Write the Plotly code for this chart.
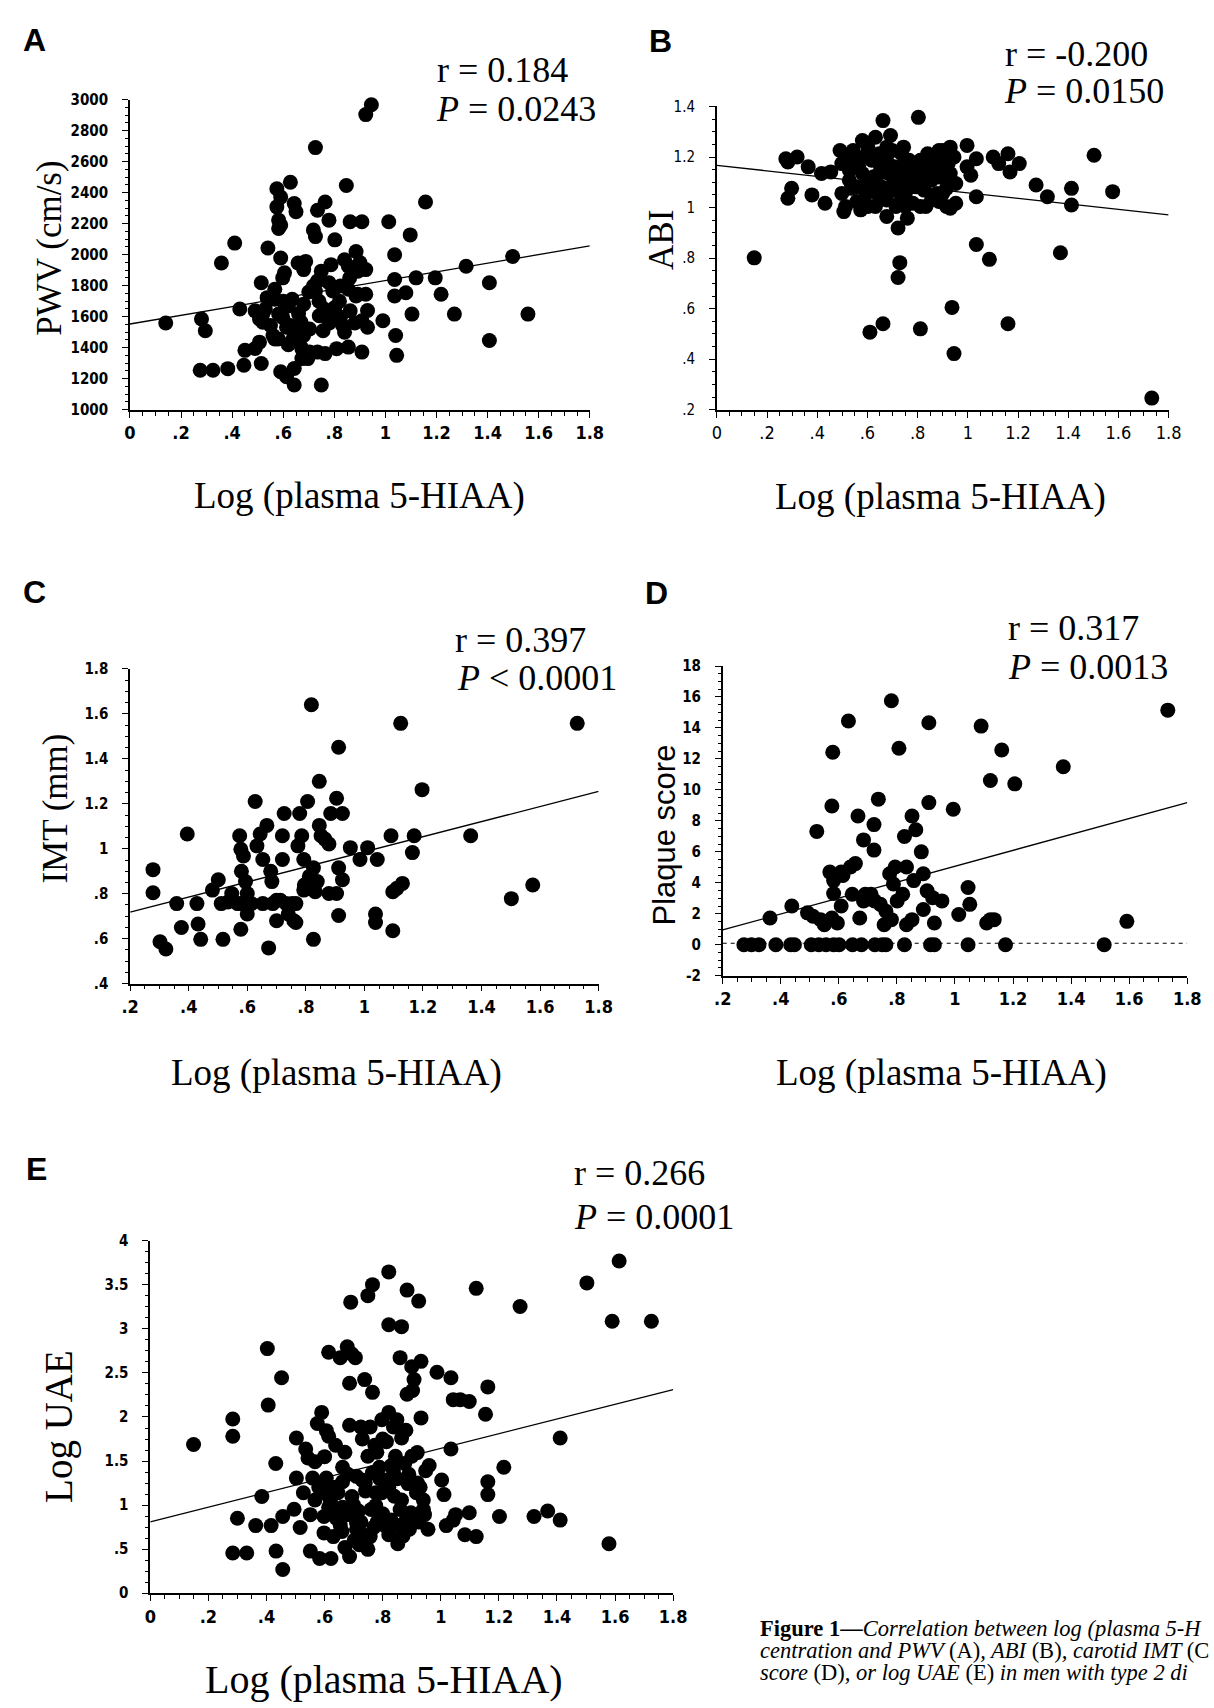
import plotly.graph_objects as go

W, H = 1214, 1708

# ---------------- data ----------------
pwv_pts = [(0.14,1560),(0.28,1585),(0.295,1510),(0.275,1255),(0.325,1255),(0.383,1265),(0.446,1287),(0.358,1947),(0.41,2075),(0.43,1650),(0.45,1383),(0.49,1395),(0.507,1436),(0.514,1298),(0.514,1819),(0.54,2043),(0.537,1723),(0.53,1650),(0.49,1638),(0.507,1585),(0.52,1564),(0.567,1713),(0.55,1543),(0.56,1479),(0.567,1457),(0.575,2426),(0.575,2309),(0.59,2372),(0.582,2223),(0.59,2191),(0.582,2170),(0.59,1979),(0.605,1883),(0.598,1851),(0.582,1617),(0.598,1596),(0.59,1245),(0.613,1213),(0.628,2468),(0.643,2330),(0.65,2277),(0.635,1713),(0.62,1670),(0.628,1543),(0.643,1489),(0.643,1266),(0.643,1160),(0.635,1447),(0.666,1457),(0.673,1394),(0.68,1681),(0.658,1947),(0.688,1957),(0.68,1904),(0.696,1330),(0.703,1372),(0.718,2160),(0.726,2117),(0.726,2691),(0.734,2287),(0.764,2340),(0.726,1766),(0.718,1798),(0.734,1830),(0.749,1894),(0.741,1606),(0.703,1521),(0.756,1510),(0.734,1372),(0.749,1160),(0.764,1362),(0.779,2223),(0.802,2096),(0.787,1936),(0.779,1819),(0.794,1766),(0.779,1628),(0.802,1660),(0.809,1394),(0.824,1596),(0.832,1543),(0.847,2447),(0.84,1968),(0.855,1777),(0.862,1638),(0.855,1404),(0.862,2213),(0.908,2213),(0.885,2021),(0.892,1894),(0.892,1745),(0.923,1904),(0.923,1745),(0.908,1574),(0.93,1532),(0.908,1372),(0.923,2904),(0.945,2968),(0.99,1574),(1.013,2213),(1.036,2000),(1.036,1840),(1.036,1734),(1.04,1479),(1.044,1351),(1.08,1755),(1.097,2128),(1.104,1617),(1.12,1851),(1.157,2340),(1.195,1851),(1.218,1745),(1.27,1617),(1.316,1926),(1.407,1819),(1.407,1447),(1.498,1989),(1.558,1617),(0.58,1457),(0.613,1532),(0.67,1564),(0.855,1926),(0.824,1798),(0.567,1777),(0.673,1330),(0.885,1734),
           (0.52,1620),(0.6,1700),(0.66,1620),(0.7,1760),(0.74,1700),(0.78,1560),(0.82,1700),(0.86,1850),(0.88,1560),(0.93,1640),(0.68,1480),(0.62,1420),(0.76,1650),(0.84,1500),(0.9,1950)]
pwv_fit_x = [0, 1.8]
pwv_fit_y = [1553, 2057]

abi_pts = [(0.149,0.801),(0.275,1.193),(0.283,1.18),(0.32,1.2),(0.283,1.037),(0.298,1.076),(0.364,1.161),(0.379,1.05),(0.417,1.135),(0.431,1.017),(0.454,1.141),(0.491,1.226),(0.498,1.056),(0.506,0.984),(0.521,1.187),(0.528,1.148),(0.536,1.076),(0.558,1.024),(0.573,0.991),(0.58,1.265),(0.588,1.2),(0.595,1.102),(0.595,1.056),(0.602,1.004),(0.632,1.278),(0.647,1.213),(0.647,1.135),(0.655,1.082),(0.662,1.344),(0.67,1.174),(0.677,0.965),(0.677,1.03),(0.692,1.285),(0.699,1.226),(0.707,1.161),(0.714,1.108),(0.714,1.004),(0.722,0.919),(0.729,0.782),(0.722,0.723),(0.744,1.239),(0.751,1.187),(0.751,1.056),(0.759,0.958),(0.766,1.135),(0.781,1.017),(0.789,1.095),(0.803,1.357),(0.811,1.004),(0.796,1.174),(0.818,1.148),(0.826,1.069),(0.84,1.213),(0.855,1.108),(0.87,1.193),(0.878,1.056),(0.885,1.024),(0.9,1.226),(0.907,1.148),(0.915,1.108),(0.922,1.174),(0.93,1.239),(0.93,0.997),(0.937,0.605),(0.945,0.422),(0.952,1.017),(0.915,1.076),(0.855,1.03),(0.997,1.246),(0.997,1.161),(1.012,1.128),(1.034,1.193),(1.034,1.043),(1.034,0.854),(1.086,0.795),(1.101,1.2),(1.123,1.174),(1.16,1.213),(1.168,1.141),(1.16,0.54),(1.205,1.174),(1.272,1.089),(1.317,1.043),(1.369,0.821),(1.413,1.076),(1.413,1.01),(1.503,1.207),(1.577,1.063),(1.733,0.246),(0.61,0.507),(0.662,0.54),(0.811,0.52),(0.811,1.187),(0.565,1.161),(0.617,1.187),(0.632,1.069),(0.692,1.082),(0.729,1.148),(0.84,1.121),(0.885,1.226),(0.952,1.095),(0.543,1.226),(0.796,1.082),(0.736,1.037),(0.855,1.174),
           (0.498,1.174),(0.528,1.108),(0.558,1.2),(0.58,1.135),(0.602,1.239),(0.625,1.122),(0.632,1.004),(0.647,1.174),(0.677,1.239),(0.684,1.135),(0.707,1.069),(0.736,1.213),(0.766,1.187),(0.774,1.082),(0.796,1.135),(0.826,1.108),(0.833,1.004),(0.863,1.148),(0.885,1.121),(0.9,1.056),(0.93,1.135),(0.945,1.2),(0.751,1.004),(0.647,1.043),(0.513,1.004),(0.558,1.082),(0.736,1.108),(0.84,1.174),(0.9,1.174),(0.677,1.187),(0.588,1.03),(0.915,1.004)]
abi_fit_x = [0, 1.8]
abi_fit_y = [1.167, 0.971]

imt_pts = [(0.278,0.907),(0.278,0.804),(0.302,0.586),(0.322,0.554),(0.359,0.756),(0.375,0.65),(0.395,1.066),(0.428,0.756),(0.432,0.665),(0.441,0.597),(0.481,0.816),(0.501,0.862),(0.511,0.756),(0.517,0.597),(0.534,0.763),(0.547,0.801),(0.567,0.756),(0.574,1.058),(0.578,0.998),(0.587,0.968),(0.58,0.9),(0.578,0.642),(0.594,0.854),(0.6,0.801),(0.6,0.71),(0.614,0.756),(0.627,1.21),(0.633,1.013),(0.644,1.066),(0.653,0.952),(0.653,0.756),(0.667,1.104),(0.673,0.559),(0.68,0.9),(0.684,0.854),(0.687,0.756),(0.7,0.68),(0.713,0.771),(0.72,1.058),(0.72,0.952),(0.726,1.157),(0.733,0.756),(0.74,0.71),(0.753,0.756),(0.759,0.68),(0.766,0.756),(0.766,0.672),(0.779,1.157),(0.786,1.058),(0.773,1.013),(0.793,0.952),(0.795,0.839),(0.806,1.21),(0.812,0.877),(0.819,1.641),(0.826,0.597),(0.826,0.915),(0.832,0.809),(0.839,0.854),(0.846,1.3),(0.846,1.104),(0.852,1.058),(0.865,1.043),(0.879,1.021),(0.879,0.801),(0.885,1.157),(0.905,1.225),(0.912,1.452),(0.912,0.915),(0.912,0.703),(0.905,0.801),(0.925,1.157),(0.925,0.862),(0.952,1.005),(0.985,0.952),(1.011,1.005),(1.044,0.952),(1.038,0.71),(1.038,0.672),(1.091,1.058),(1.097,0.809),(1.097,0.635),(1.111,0.824),(1.124,1.558),(1.13,0.846),(1.164,0.983),(1.17,1.058),(1.197,1.263),(1.363,1.058),(1.502,0.778),(1.575,0.839),(1.727,1.558),(0.58,0.756),(0.7,0.771),(0.793,0.816)]
imt_fit_x = [0.2, 1.8]
imt_fit_y = [0.718, 1.255]

plaque_zero_x = [0.273,0.299,0.325,0.383,0.434,0.447,0.505,0.531,0.556,0.582,0.601,0.647,0.678,0.724,0.749,0.762,0.826,0.916,0.929,1.045,1.174,1.514]
plaque_pts = [(0.363,1.73),(0.438,2.5),(0.492,2.06),(0.511,1.84),(0.537,1.62),(0.55,1.29),(0.576,1.73),(0.608,2.5),(0.595,1.4),(0.524,7.32),(0.576,8.96),(0.579,12.43),(0.569,4.69),(0.582,4.14),(0.582,3.31),(0.608,4.69),(0.614,4.47),(0.633,14.45),(0.64,5.02),(0.657,5.24),(0.646,3.26),(0.666,8.31),(0.672,1.73),(0.685,6.77),(0.685,2.83),(0.691,3.26),(0.711,3.26),(0.721,6.11),(0.721,7.76),(0.723,2.83),(0.736,9.4),(0.743,2.61),(0.756,1.29),(0.762,2.17),(0.775,4.58),(0.781,1.62),(0.781,15.76),(0.788,3.92),(0.794,5.02),(0.801,2.83),(0.807,12.69),(0.82,3.26),(0.826,6.99),(0.833,5.02),(0.833,1.29),(0.852,1.62),(0.852,8.31),(0.858,4.14),(0.865,7.43),(0.884,6.0),(0.891,2.28),(0.891,4.58),(0.904,3.48),(0.91,9.18),(0.91,14.34),(0.923,3.04),(0.929,1.4),(0.955,2.83),(0.994,8.75),(1.013,1.95),(1.045,3.7),(1.051,2.61),(1.09,14.12),(1.109,1.4),(1.122,1.62),(1.122,10.61),(1.135,1.62),(1.161,12.58),(1.206,10.39),(1.373,11.49),(1.592,1.51),(1.733,15.15)]
plaque_fit_x = [0.2, 1.8]
plaque_fit_y = [0.96, 9.18]
plaque_ref_x = [0.2, 1.8]
plaque_ref_y = [0.1, 0.1]

uae_pts = [(0.149,1.687),(0.284,1.977),(0.284,1.782),(0.284,0.456),(0.332,0.456),(0.3,0.85),(0.363,0.767),(0.384,1.098),(0.403,2.777),(0.406,2.135),(0.416,0.767),(0.432,1.472),(0.433,0.477),(0.456,0.269),(0.452,2.446),(0.456,0.87),(0.495,0.953),(0.503,1.762),(0.503,1.306),(0.516,0.746),(0.527,1.14),(0.535,1.637),(0.543,1.534),(0.551,0.477),(0.559,1.306),(0.567,1.492),(0.567,1.057),(0.575,1.927),(0.583,0.394),(0.59,2.052),(0.598,0.87),(0.598,0.684),(0.606,1.845),(0.606,1.306),(0.614,0.974),(0.614,1.782),(0.614,2.736),(0.622,0.394),(0.63,0.642),(0.638,1.679),(0.638,1.202),(0.646,1.14),(0.654,2.674),(0.654,0.767),(0.662,1.264),(0.662,1.43),(0.67,0.518),(0.678,2.798),(0.678,0.891),(0.686,2.383),(0.686,0.415),(0.69,3.304),(0.694,2.715),(0.686,1.907),(0.694,1.098),(0.702,0.891),(0.706,2.674),(0.702,0.601),(0.71,1.326),(0.717,0.933),(0.725,1.886),(0.729,1.285),(0.733,0.663),(0.738,2.425),(0.741,1.161),(0.749,1.554),(0.749,0.497),(0.749,3.378),(0.757,1.886),(0.757,0.642),(0.765,3.503),(0.765,2.28),(0.765,1.368),(0.773,1.679),(0.776,0.995),(0.781,0.808),(0.789,1.43),(0.797,1.969),(0.797,1.14),(0.805,1.285),(0.808,0.767),(0.813,1.72),(0.821,3.648),(0.821,3.047),(0.821,2.052),(0.821,1.202),(0.829,0.829),(0.837,1.886),(0.844,1.554),(0.849,1.969),(0.852,0.767),(0.852,0.56),(0.86,2.674),(0.865,3.026),(0.865,1.762),(0.865,1.057),(0.876,1.472),(0.881,0.829),(0.884,2.259),(0.884,3.441),(0.887,1.244),(0.892,0.725),(0.897,0.912),(0.9,2.57),(0.908,2.425),(0.903,2.301),(0.916,1.14),(0.919,1.596),(0.924,3.316),(0.924,0.808),(0.929,1.202),(0.932,2.632),(0.932,1.99),(0.94,1.057),(0.944,0.891),(0.948,1.389),(0.956,0.725),(0.987,2.508),(1.003,1.285),(1.011,1.119),(1.019,0.767),(1.035,2.446),(1.035,1.637),(1.043,2.197),(1.043,0.829),(1.051,0.891),(1.067,2.197),(1.083,0.663),(1.098,2.176),(1.098,0.912),(1.122,3.461),(1.122,0.642),(1.162,2.342),(1.154,2.031),(1.162,1.264),(1.162,1.119),(1.202,0.87),(1.217,1.43),(1.273,3.254),(1.321,0.87),(1.368,0.933),(1.411,1.762),(1.411,0.829),(1.503,3.523),(1.579,0.56),(1.59,3.088),(1.614,3.772),(1.725,3.088),(0.63,0.974),(0.725,0.808),(0.776,1.14),(0.837,1.389),(0.662,0.974),(0.598,1.14),(0.71,0.725),(0.821,0.663),(0.9,1.554),(0.551,0.891),
           (0.58,1.2),(0.62,1.05),(0.64,0.85),(0.66,0.7),(0.68,1.35),(0.7,1.0),(0.72,0.55),(0.74,1.25),(0.76,0.95),(0.78,1.6),(0.8,0.9),(0.8,1.75),(0.83,1.45),(0.85,1.3),(0.86,0.95),(0.88,1.85),(0.9,0.85),(0.92,1.25),(0.94,0.95),(0.96,1.45),(0.6,1.55),(0.67,1.6),(0.73,1.75),(0.79,1.3),(0.84,1.1),(0.89,1.35),(0.71,0.8),(0.77,0.75),(0.63,1.2),(0.87,0.65)]
uae_fit_x = [0, 1.8]
uae_fit_y = [0.81, 2.31]

# tick labels
x_tickvals_0 = [0, 0.2, 0.4, 0.6, 0.8, 1.0, 1.2, 1.4, 1.6, 1.8]
x_ticktext_0 = ["0", ".2", ".4", ".6", ".8", "1", "1.2", "1.4", "1.6", "1.8"]
x_tickvals_2 = [0.2, 0.4, 0.6, 0.8, 1.0, 1.2, 1.4, 1.6, 1.8]
x_ticktext_2 = [".2", ".4", ".6", ".8", "1", "1.2", "1.4", "1.6", "1.8"]
pwv_tickvals = [1000, 1200, 1400, 1600, 1800, 2000, 2200, 2400, 2600, 2800, 3000]
pwv_ticktext = [str(v) for v in pwv_tickvals]
abi_tickvals = [0.2, 0.4, 0.6, 0.8, 1.0, 1.2, 1.4]
abi_ticktext = [".2", ".4", ".6", ".8", "1", "1.2", "1.4"]
imt_tickvals = [0.4, 0.6, 0.8, 1.0, 1.2, 1.4, 1.6, 1.8]
imt_ticktext = [".4", ".6", ".8", "1", "1.2", "1.4", "1.6", "1.8"]
plaque_tickvals = [-2, 0, 2, 4, 6, 8, 10, 12, 14, 16, 18]
plaque_ticktext = [str(v) for v in plaque_tickvals]
uae_tickvals = [0, 0.5, 1, 1.5, 2, 2.5, 3, 3.5, 4]
uae_ticktext = ["0", ".5", "1", "1.5", "2", "2.5", "3", "3.5", "4"]

x_title = "Log (plasma 5-HIAA)"

# ---------------- layout helpers ----------------
def fx(px):
    return px / W

def fy(py):
    return 1 - py / H

SERIF = "Liberation Serif, Times New Roman, serif"
SANS = "Liberation Sans, Arial, sans-serif"
TICKF = "DejaVu Sans Condensed, Liberation Sans Narrow, Arial Narrow, sans-serif"

panels = [
    dict(pts=pwv_pts, fx_=pwv_fit_x, fy_=pwv_fit_y, xd=(123.3, 592), yd=(91.7, 405),
         xr=[0, 1.8], yr=[1000, 3000], xtv=x_tickvals_0, xtt=x_ticktext_0,
         ytv=pwv_tickvals, ytt=pwv_ticktext, xm=(0, 0.05), ym=(1000, 50), bold=True),
    dict(pts=abi_pts, fx_=abi_fit_x, fy_=abi_fit_y, xd=(721.5, 1182), yd=(98.5, 405),
         xr=[0, 1.8], yr=[0.2, 1.4], xtv=x_tickvals_0, xtt=x_ticktext_0,
         ytv=abi_tickvals, ytt=abi_ticktext, xm=(0, 0.05), ym=(0.2, 0.05), bold=False),
    dict(pts=imt_pts, fx_=imt_fit_x, fy_=imt_fit_y, xd=(123.5, 601), yd=(667, 985),
         xr=[0.2, 1.8], yr=[0.4, 1.8], xtv=x_tickvals_2, xtt=x_ticktext_2,
         ytv=imt_tickvals, ytt=imt_ticktext, xm=(0.2, 0.05), ym=(0.4, 0.05), bold=True),
    dict(pts=plaque_pts, fx_=plaque_fit_x, fy_=plaque_fit_y, xd=(727.5, 1201), yd=(664, 977),
         xr=[0.2, 1.8], yr=[-2, 18], xtv=x_tickvals_2, xtt=x_ticktext_2,
         ytv=plaque_tickvals, ytt=plaque_ticktext, xm=(0.2, 0.05), ym=(-2, 0.5), bold=True),
    dict(pts=uae_pts, fx_=uae_fit_x, fy_=uae_fit_y, xd=(144, 677), yd=(1245, 1601),
         xr=[0, 1.8], yr=[0, 4], xtv=x_tickvals_0, xtt=x_ticktext_0,
         ytv=uae_tickvals, ytt=uae_ticktext, xm=(0, 0.05), ym=(0, 0.125), bold=True),
]

fig = go.Figure()
layout = dict(width=W, height=H, margin=dict(l=0, r=0, t=0, b=0),
              paper_bgcolor="white", plot_bgcolor="white", showlegend=False)

MS = 15
for i, p in enumerate(panels):
    n = "" if i == 0 else str(i + 1)
    xs = [a for a, b in p["pts"]]
    ys = [b for a, b in p["pts"]]
    fig.add_trace(go.Scatter(x=p["fx_"], y=p["fy_"], mode="lines", xaxis="x" + n, yaxis="y" + n,
                             line=dict(color="black", width=1.3)))
    if i == 3:
        fig.add_trace(go.Scatter(x=plaque_ref_x, y=plaque_ref_y, mode="lines", xaxis="x4", yaxis="y4",
                                 line=dict(color="black", width=1.1, dash="4px,4px")))
        fig.add_trace(go.Scatter(x=plaque_zero_x, y=[0] * len(plaque_zero_x), mode="markers",
                                 xaxis="x4", yaxis="y4",
                                 marker=dict(color="black", size=MS, line=dict(width=0)),
                                 cliponaxis=False))
    fig.add_trace(go.Scatter(x=xs, y=ys, mode="markers", xaxis="x" + n, yaxis="y" + n,
                             marker=dict(color="black", size=MS, line=dict(width=0)),
                             cliponaxis=False))
    wt = "bold" if p["bold"] else "normal"
    common = dict(showline=True, linecolor="black", linewidth=1.6, showgrid=False, zeroline=False,
                  ticks="outside", tickwidth=1.3, tickcolor="black",
                  tickmode="array", mirror=False, fixedrange=True)
    layout["xaxis" + n] = dict(common, domain=[fx(p["xd"][0]), fx(p["xd"][1])], range=p["xr"],
                               anchor="y" + n, tickvals=p["xtv"], ticktext=p["xtt"], ticklen=6,
                               tickfont=dict(family=TICKF, size=18, color="black", weight=wt),
                               ticklabelstandoff=0,
                               minor=dict(ticks="outside", ticklen=4, tickwidth=1, tickcolor="black",
                                          tickmode="linear", tick0=p["xm"][0], dtick=p["xm"][1]))
    layout["yaxis" + n] = dict(common, domain=[fy(p["yd"][1]), fy(p["yd"][0])], range=p["yr"],
                               anchor="x" + n, tickvals=p["ytv"], ticktext=p["ytt"], ticklen=6,
                               tickfont=dict(family=TICKF, size=15, color="black", weight=wt),
                               ticklabelstandoff=11,
                               minor=dict(ticks="outside", ticklen=3, tickwidth=1, tickcolor="black",
                                          tickmode="linear", tick0=p["ym"][0], dtick=p["ym"][1]))

ann = []

def text(x, y, s, size, family=SERIF, xanchor="left", angle=0, color="black"):
    ann.append(dict(x=fx(x), y=fy(y), xref="paper", yref="paper", text=s, showarrow=False,
                    xanchor=xanchor, yanchor="middle", textangle=angle,
                    font=dict(family=family, size=size, color=color)))

# panel letters
for lab, x, y in [("A", 12, 31), ("B", 650, 32), ("C", 12, 589), ("D", 646, 590), ("E", 15, 1172)]:
    text(x, y, "<b>%s</b>" % lab, 32, family=SANS)

# statistics
stats = [("r = 0.184", "<i>P</i> = 0.0243", 434, 62, 433, 101),
         ("r = -0.200", "<i>P</i> = 0.0150", 1013, 45, 1012, 83),
         ("r = 0.397", "<i>P</i> < 0.0001", 453, 638, 455, 676),
         ("r = 0.317", "<i>P</i> = 0.0013", 1016, 626, 1016, 665),
         ("r = 0.266", "<i>P</i> = 0.0001", 574, 1176, 574, 1221)]
for r_t, p_t, rx, ry, px_, py_ in stats:
    text(rx, ry, r_t, 36)
    text(px_, py_, p_t, 36)

# x-axis titles
for x, y, s in [(357, 492, 37), (949, 493, 37), (334, 1075, 37), (950, 1075, 37), (382, 1688, 40)]:
    text(x, y, x_title, s, xanchor="center")

# y-axis titles
text(41, 242, "PWV (cm/s)", 35, xanchor="center", angle=-90)
text(665, 233, "ABI", 35, xanchor="center", angle=-90)
text(47, 808, "IMT (mm)", 35, xanchor="center", angle=-90)
text(668, 835, "Plaque score", 31, family=SANS, xanchor="center", angle=-90)
text(51, 1433, "Log UAE", 39, xanchor="center", angle=-90)

# caption (cut at the page edge, as in the original)
cap_lines = ["<b>Figure 1—</b><i>Correlation between log (plasma 5-H</i>",
             "<i>centration and PWV </i>(A)<i>, ABI </i>(B)<i>, carotid IMT </i>(C",
             "<i>score </i>(D)<i>, or log UAE </i>(E)<i> in men with type 2 di</i>"]
for s, y in zip(cap_lines, [1637, 1659, 1681]):
    text(763, y, s, 22.5)

layout["annotations"] = ann
fig.update_layout(**layout)
fig.write_html("out.html", config={"displayModeBar": False},
               post_script="document.body.style.margin='0';document.body.style.overflow='hidden';")
